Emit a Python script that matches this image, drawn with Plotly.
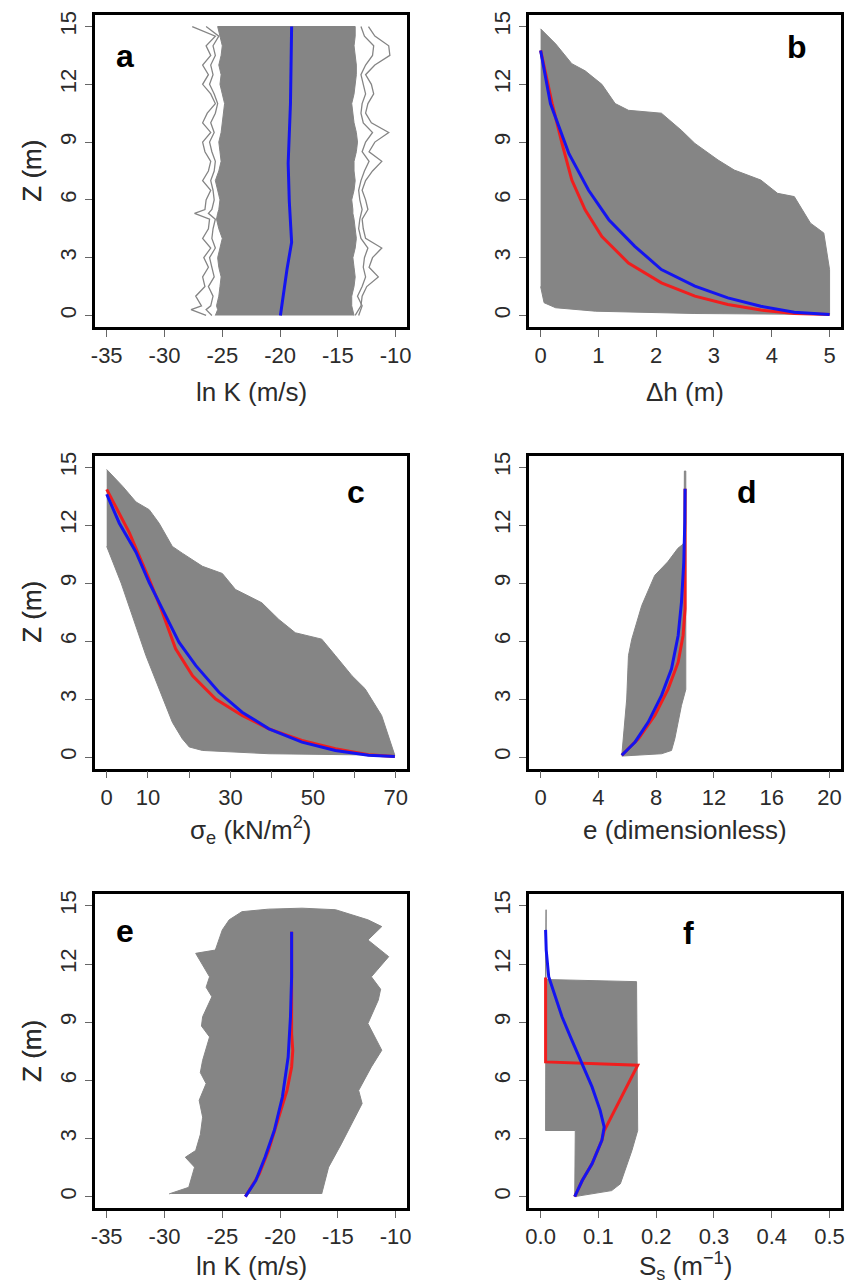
import plotly.graph_objects as go

W, H = 858, 1286

# ---------------- DATA ----------------
# Panel a: ln K ensemble envelope (outer jagged lines + dense core) and mean
a_z = [0, 0.3, 0.5, 1, 1.5, 2, 2.5, 3, 3.5, 4, 4.5, 5, 5.3, 5.5, 6, 6.5, 7, 7.5, 8, 8.5,
       9, 9.5, 10, 10.5, 11, 11.5, 12, 12.5, 13, 13.5, 14, 14.5, 15]
a_left_outer = [-26.4, -27.7, -26.8, -27.3, -26.5, -26.7, -26.2, -26.6, -26.0, -26.7, -26.2,
                -26.1, -27.4, -26.5, -26.4, -26.0, -26.7, -26.2, -26.0, -26.5, -26.7, -26.0,
                -26.7, -26.3, -25.6, -26.0, -26.7, -26.2, -26.7, -26.0, -26.4, -25.6, -27.6]
a_left_mid = [-25.9, -26.4, -26.0, -25.8, -26.2, -25.7, -25.9, -26.1, -25.6, -25.9, -25.8,
              -25.6, -26.2, -25.9, -25.7, -25.8, -26.0, -25.7, -25.6, -25.9, -26.1, -25.7,
              -26.0, -25.6, -25.4, -25.7, -26.1, -25.8, -26.0, -25.6, -25.8, -25.3, -26.4]
a_right_outer = [-13.5, -13.2, -13.0, -12.9, -12.5, -11.5, -12.3, -12.0, -11.2, -12.6, -12.8,
                 -12.9, -12.6, -12.4, -12.6, -12.9, -12.6, -12.0, -11.2, -12.3, -11.8, -10.6,
                 -12.1, -12.6, -12.4, -11.9, -12.1, -12.6, -11.8, -10.5, -10.6, -11.8, -12.35]
a_right_mid = [-13.2, -13.0, -12.9, -13.3, -12.9, -12.6, -12.8, -12.7, -12.4, -13.0, -13.2,
               -13.1, -13.0, -12.9, -13.1, -13.2, -13.0, -12.7, -12.3, -12.9, -12.6, -12.0,
               -12.8, -13.0, -12.9, -12.6, -12.8, -13.0, -12.6, -12.0, -11.9, -12.7, -13.0]
a_left_core = [-25.6, -25.4, -25.5, -25.3, -25.2, -25.1, -25.3, -25.4, -25.2, -25.0, -25.3,
               -25.5, -25.4, -25.3, -25.2, -25.4, -25.6, -25.3, -25.1, -25.2, -25.3, -25.1,
               -25.0, -24.9, -24.8, -25.0, -25.2, -25.1, -25.3, -25.1, -25.0, -25.2, -25.4]
a_right_core = [-13.6, -13.7, -13.8, -13.8, -13.6, -13.5, -13.6, -13.7, -13.5, -13.4, -13.5,
                -13.6, -13.7, -13.7, -13.8, -13.6, -13.5, -13.6, -13.6, -13.4, -13.3, -13.4,
                -13.6, -13.7, -13.8, -13.6, -13.5, -13.4, -13.4, -13.5, -13.6, -13.5, -13.5]
a_mean_x = [-19.97, -19.7, -19.4, -19.0, -19.2, -19.3, -19.2, -19.1, -19.0]
a_mean_z = [0, 1.2, 2.4, 3.8, 5.9, 7.9, 9.5, 11.0, 15.0]

# Panel b: head change
b_up_x = [0, 0.26, 0.54, 0.77, 1.06, 1.29, 1.52, 2.09, 2.44, 2.67, 3.07, 3.35, 3.81, 4.10,
          4.39, 4.67, 4.90, 5.0, 5.0]
b_up_z = [14.88, 14.1, 13.07, 12.7, 12.0, 11.0, 10.65, 10.5, 9.6, 8.93, 8.07, 7.55, 7.03,
          6.34, 6.17, 4.79, 4.28, 2.38, 0.05]
b_lo_x = [2.67, 0.95, 0.26, 0.06, 0.0]
b_lo_z = [0.10, 0.22, 0.40, 0.66, 1.5]
b_blue_x = [0, 0.17, 0.49, 0.83, 1.18, 1.63, 2.09, 2.67, 3.24, 3.81, 4.39, 5.0]
b_blue_z = [13.76, 11.0, 8.4, 6.5, 4.97, 3.59, 2.38, 1.52, 0.91, 0.48, 0.17, 0.05]
b_red_x = [0, 0.2, 0.37, 0.54, 0.77, 1.06, 1.52, 2.09, 2.67, 3.24, 3.81, 4.39, 5.0]
b_red_z = [13.76, 11.0, 8.93, 7.03, 5.48, 4.1, 2.72, 1.69, 1.0, 0.57, 0.28, 0.10, 0.05]

# Panel c: effective stress
c_up_x = [0, 3.9, 7.1, 10.3, 12.7, 15.9, 18.3, 23.2, 28.0, 31.2, 37.6, 41.7, 45.7, 52.1,
          55.4, 59.4, 62.6, 66.6, 69.8]
c_up_z = [14.88, 14.0, 13.2, 12.8, 12.1, 10.9, 10.55, 9.87, 9.5, 8.67, 7.98, 7.12, 6.43,
          6.1, 5.25, 4.21, 3.53, 2.15, 0.09]
c_lo_x = [39.3, 23.2, 20.0, 18.3, 15.9, 9.5, 3.5, 0.0]
c_lo_z = [0.17, 0.34, 0.52, 0.95, 1.8, 5.25, 9.0, 10.9]
c_blue_x = [0, 3.06, 7.1, 10.3, 13.5, 17.5, 21.6, 27.2, 32.8, 39.3, 47.3, 55.4, 63.4, 69.8]
c_blue_z = [13.6, 12.1, 10.6, 9.03, 7.65, 5.94, 4.73, 3.35, 2.32, 1.46, 0.77, 0.34, 0.09, 0.03]
c_red_x = [0, 5.5, 10.3, 13.5, 16.7, 20.8, 26.4, 32.8, 39.3, 47.3, 55.4, 63.4, 69.8]
c_red_z = [13.85, 11.6, 9.2, 7.48, 5.6, 4.2, 3.0, 2.15, 1.46, 0.86, 0.43, 0.12, 0.03]

# Panel d: void ratio
d_left_x = [5.62, 5.73, 5.96, 6.08, 6.31, 7.0, 7.9, 8.8, 9.5, 9.8, 9.93, 9.95]
d_left_z = [0.09, 0.95, 3.0, 5.25, 6.1, 7.84, 9.4, 10.1, 10.8, 10.98, 11.1, 14.8]
d_right_x = [10.05, 10.05, 9.75, 9.29, 9.06, 8.37, 5.62]
d_right_z = [14.8, 3.5, 2.67, 0.95, 0.34, 0.17, 0.05]
d_blue_x = [5.62, 6.54, 7.45, 8.37, 9.06, 9.52, 9.75, 9.91, 9.98, 10.0]
d_blue_z = [0.09, 0.78, 1.81, 3.19, 4.57, 6.29, 8.02, 10.08, 12.16, 13.88]
d_red_x = [5.62, 6.77, 7.91, 8.83, 9.52, 9.86, 10.0, 10.0]
d_red_z = [0.09, 0.95, 2.16, 3.53, 4.91, 6.29, 7.67, 13.88]

# Panel e: ln K after consolidation
e_left_x = [-29.6, -27.9, -27.4, -28.2, -27.3, -26.9, -26.7, -27.0, -26.4, -26.9, -26.7,
            -26.1, -26.8, -26.7, -25.9, -26.4, -26.1, -27.3, -25.6, -25.0, -24.4, -23.3, -21.0]
e_left_z = [0.14, 0.48, 1.52, 2.03, 2.38, 3.2, 4.1, 4.97, 5.83, 6.4, 7.03, 8.24, 8.8, 9.28,
            10.31, 10.8, 11.34, 12.55, 12.72, 13.76, 14.28, 14.7, 14.83]
e_right_x = [-18.1, -15.2, -12.4, -11.2, -12.4, -10.6, -12.1, -11.3, -11.5, -12.4, -11.8,
             -11.2, -12.1, -13.2, -12.9, -13.5, -14.7, -15.8, -16.4]
e_right_z = [14.88, 14.8, 14.28, 13.93, 13.24, 12.38, 11.34, 10.7, 10.14, 8.93, 8.2, 7.55,
             6.69, 5.48, 4.8, 4.1, 2.72, 1.52, 0.14]
e_blue_x = [-23.0, -22.1, -21.3, -20.5, -19.8, -19.3, -19.1, -19.0, -19.0]
e_blue_z = [0, 0.83, 2.03, 3.41, 5.14, 7.21, 9.28, 11.34, 13.67]
e_red_x = [-23.0, -21.8, -21.0, -20.1, -19.4, -19.0, -18.9, -19.0, -19.0]
e_red_z = [0, 1.17, 2.38, 4.1, 5.48, 6.69, 7.55, 8.41, 13.67]

# Panel f: specific storage
f_poly_x = [0.059, 0.060, 0.0086, 0.0086, 0.0095, 0.0095, 0.0086, 0.166, 0.168, 0.158,
            0.146, 0.138, 0.123, 0.059]
f_poly_z = [0, 3.41, 3.41, 11.2, 11.2, 14.8, 11.2, 11.09, 3.41, 2.38, 1.34, 0.66, 0.31, 0]
f_blue_x = [0.0086, 0.0097, 0.014, 0.026, 0.037, 0.054, 0.072, 0.089, 0.103, 0.110, 0.106,
            0.089, 0.072, 0.059]
f_blue_z = [13.76, 12.72, 11.34, 10.31, 9.28, 8.07, 6.86, 5.66, 4.45, 3.59, 2.9, 1.69, 0.83, 0]
f_red_x = [0.0086, 0.0086, 0.168, 0.110, 0.106, 0.089, 0.072, 0.059]
f_red_z = [11.3, 6.95, 6.78, 3.4, 2.9, 1.69, 0.83, 0]

# Axis settings
x_ranges = [[-36, -9], [-0.2, 5.2], [-2.8, 72.8], [-0.8, 20.8], [-36, -9], [-0.02, 0.52]]
x_tickvals = [[-35, -30, -25, -20, -15, -10], [0, 1, 2, 3, 4, 5],
              [0, 10, 30, 50, 70], [0, 4, 8, 12, 16, 20],
              [-35, -30, -25, -20, -15, -10], [0, 0.1, 0.2, 0.3, 0.4, 0.5]]
x_ticktext = [["-35", "-30", "-25", "-20", "-15", "-10"], ["0", "1", "2", "3", "4", "5"],
              ["0", "10", "30", "50", "70"], ["0", "4", "8", "12", "16", "20"],
              ["-35", "-30", "-25", "-20", "-15", "-10"], ["0.0", "0.1", "0.2", "0.3", "0.4", "0.5"]]
x_minor_ticks = [None, None, [20, 40, 60], None, None, None]
x_titles = ["ln K (m/s)", "Δh (m)", "σ<sub>e</sub> (kN/m<sup>2</sup>)", "e (dimensionless)",
            "ln K (m/s)", "S<sub>s</sub> (m<sup>−1</sup>)"]
panel_letters = ["a", "b", "c", "d", "e", "f"]
y_ticks = [0, 3, 6, 9, 12, 15]

# ---------------- LAYOUT GEOMETRY (pixels) ----------------
cols = [(92, 407), (530, 845)]
rows = [(11, 324), (453, 767), (893, 1208)]
xtitle_off = [65, 62, 58]
letter_pos = [(122, 52), (800, 43), (355, 490), (750, 490), (122, 930), (691, 932)]

GRAY = "#858585"
BLUE = "#1414f0"
RED = "#f01e1e"
FONT = "Liberation Sans, Arial, sans-serif"
TXT = "#2b2b2b"

fig = go.Figure()


def ax(i):
    return ("x" if i == 0 else f"x{i+1}"), ("y" if i == 0 else f"y{i+1}")


def poly(i, xs, zs):
    xa, ya = ax(i)
    fig.add_trace(go.Scatter(x=xs, y=zs, xaxis=xa, yaxis=ya, mode="lines", fill="toself",
                             fillcolor=GRAY, line=dict(color=GRAY, width=1), showlegend=False,
                             hoverinfo="skip"))


def line(i, xs, zs, color, width=3):
    xa, ya = ax(i)
    fig.add_trace(go.Scatter(x=xs, y=zs, xaxis=xa, yaxis=ya, mode="lines",
                             line=dict(color=color, width=width), showlegend=False))


# panel a
poly(0, a_left_core + a_right_core[::-1], a_z + a_z[::-1])
line(0, a_left_outer, a_z, GRAY, 1.3)
line(0, a_left_mid, a_z, GRAY, 1.3)
line(0, a_right_outer, a_z, GRAY, 1.3)
line(0, a_right_mid, a_z, GRAY, 1.3)
line(0, a_mean_x, a_mean_z, BLUE)
# panel b
poly(1, b_up_x + b_lo_x, b_up_z + b_lo_z)
line(1, b_red_x, b_red_z, RED)
line(1, b_blue_x, b_blue_z, BLUE)
# panel c
poly(2, c_up_x + c_lo_x, c_up_z + c_lo_z)
line(2, c_red_x, c_red_z, RED)
line(2, c_blue_x, c_blue_z, BLUE)
# panel d
poly(3, d_left_x + d_right_x, d_left_z + d_right_z)
line(3, d_red_x, d_red_z, RED)
line(3, d_blue_x, d_blue_z, BLUE)
# panel e
poly(4, e_left_x + e_right_x, e_left_z + e_right_z)
line(4, e_red_x, e_red_z, RED)
line(4, e_blue_x, e_blue_z, BLUE)
# panel f
poly(5, f_poly_x, f_poly_z)
line(5, f_red_x, f_red_z, RED)
line(5, f_blue_x, f_blue_z, BLUE)

layout = dict(width=W, height=H, margin=dict(l=0, r=0, t=0, b=0),
              paper_bgcolor="white", plot_bgcolor="white", showlegend=False)

common = dict(showline=True, mirror=True, linecolor="black", linewidth=2.5, ticks="outside",
              ticklen=7, tickcolor="#666", tickwidth=1.3, showgrid=False, zeroline=False,
              tickfont=dict(family=FONT, size=22, color=TXT), fixedrange=True)

annotations = []
for i in range(6):
    c = cols[i % 2]
    r = rows[i // 2]
    xd = [c[0] / W, c[1] / W]
    yd = [1 - r[1] / H, 1 - r[0] / H]
    xk = "xaxis" if i == 0 else f"xaxis{i+1}"
    yk = "yaxis" if i == 0 else f"yaxis{i+1}"
    xa, ya = ax(i)
    xdict = dict(common, domain=xd, range=x_ranges[i], tickvals=x_tickvals[i],
                 ticktext=x_ticktext[i], anchor=ya, ticklabelstandoff=0)
    if x_minor_ticks[i]:
        xdict["minor"] = dict(tickmode="array", tickvals=x_minor_ticks[i], ticks="outside",
                              ticklen=7, tickcolor="#666", tickwidth=1.3, showgrid=False)
    layout[xk] = xdict
    layout[yk] = dict(common, domain=yd, range=[-0.6, 15.6], tickvals=y_ticks,
                      tickangle=-90, anchor=xa, ticklabelstandoff=1)
    # axis titles
    annotations.append(dict(text="Z (m)", xref="paper", yref="paper", x=28 / W,
                            y=1 - (r[0] + r[1]) / 2 / H, textangle=-90, showarrow=False,
                            xanchor="center", yanchor="middle",
                            font=dict(family=FONT, size=26, color=TXT)))
    annotations.append(dict(text=x_titles[i], xref="paper", yref="paper",
                            x=(c[0] + c[1]) / 2 / W, y=1 - (r[1] + xtitle_off[i // 2]) / H,
                            showarrow=False, xanchor="center", yanchor="middle",
                            font=dict(family=FONT, size=26, color=TXT)))
    lx, ly = letter_pos[i]
    annotations.append(dict(text=f"<b>{panel_letters[i]}</b>", xref="paper", yref="paper",
                            x=lx / W, y=1 - ly / H, showarrow=False, xanchor="center",
                            yanchor="middle", font=dict(family=FONT, size=32, color="black")))

layout["annotations"] = annotations
fig.update_layout(**layout)
fig.write_html("out.html")
